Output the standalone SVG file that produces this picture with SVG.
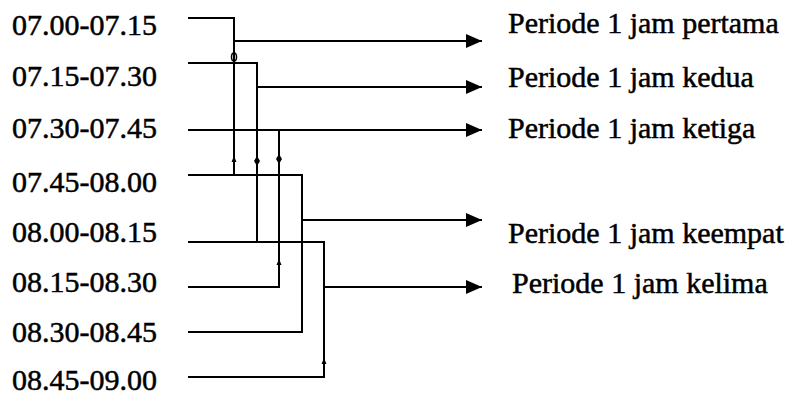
<svg xmlns="http://www.w3.org/2000/svg" width="787" height="397" viewBox="0 0 787 397">
<style>
.t{font-family:"Liberation Serif","Times New Roman",serif;font-size:30px;fill:#000;stroke:#000;stroke-width:0.5}
.c{fill:none;stroke:#000;stroke-width:2}
.m{fill:#000;stroke:none}
</style>
<defs>
<marker id="ah" viewBox="0 0 16 14" refX="16" refY="7" markerWidth="16" markerHeight="14" markerUnits="userSpaceOnUse" orient="auto">
<path d="M0,0 L16,7 L0,14 Z" fill="#000"/>
</marker>
</defs>
<rect width="787" height="397" fill="#fff"/>
<g id="times">
<text class="t" x="12" y="35">07.00-07.15</text>
<text class="t" x="12" y="86">07.15-07.30</text>
<text class="t" x="12" y="138">07.30-07.45</text>
<text class="t" x="12" y="192">07.45-08.00</text>
<text class="t" x="12" y="242">08.00-08.15</text>
<text class="t" x="12" y="292">08.15-08.30</text>
<text class="t" x="12" y="342">08.30-08.45</text>
<text class="t" x="12" y="390">08.45-09.00</text>
</g>
<g id="p1"><text class="t" x="508" y="33">Periode 1 jam pertama</text></g>
<g id="p2"><text class="t" x="508" y="87">Periode 1 jam kedua</text></g>
<g id="p3"><text class="t" x="508" y="138">Periode 1 jam ketiga</text></g>
<g id="p4"><text class="t" x="508" y="243">Periode 1 jam keempat</text></g>
<g id="p5"><text class="t" x="512" y="293">Periode 1 jam kelima</text></g>
<g id="connectors">
<path class="c" d="M188,18 H234 V175"/>
<path class="c" d="M234,41 H482" marker-end="url(#ah)"/>
<path class="c" d="M188,63 H257 V242"/>
<path class="c" d="M257,87 H482" marker-end="url(#ah)"/>
<path class="c" d="M188,130 H482" marker-end="url(#ah)"/>
<path class="c" d="M279,130 V287 H188"/>
<path class="c" d="M188,175 H302 V332 H188"/>
<path class="c" d="M302,220 H482" marker-end="url(#ah)"/>
<path class="c" d="M188,242 H324 V377 H188"/>
<path class="c" d="M324,287 H482" marker-end="url(#ah)"/>
<ellipse cx="234" cy="57" rx="2.5" ry="4" fill="none" stroke="#000" stroke-width="1.5"/>
<path class="m" d="M234,156 l-2.5,6 h5 z"/>
<path class="m" d="M257,156 l-3,5 l3,5 l3,-5 z"/>
<path class="m" d="M279,154 l-3,5 l3,5 l3,-5 z"/>
<path class="m" d="M279,259 l-2.5,6 h5 z"/>
<path class="m" d="M324,358 l-2.5,6 h5 z"/>
</g>
</svg>
